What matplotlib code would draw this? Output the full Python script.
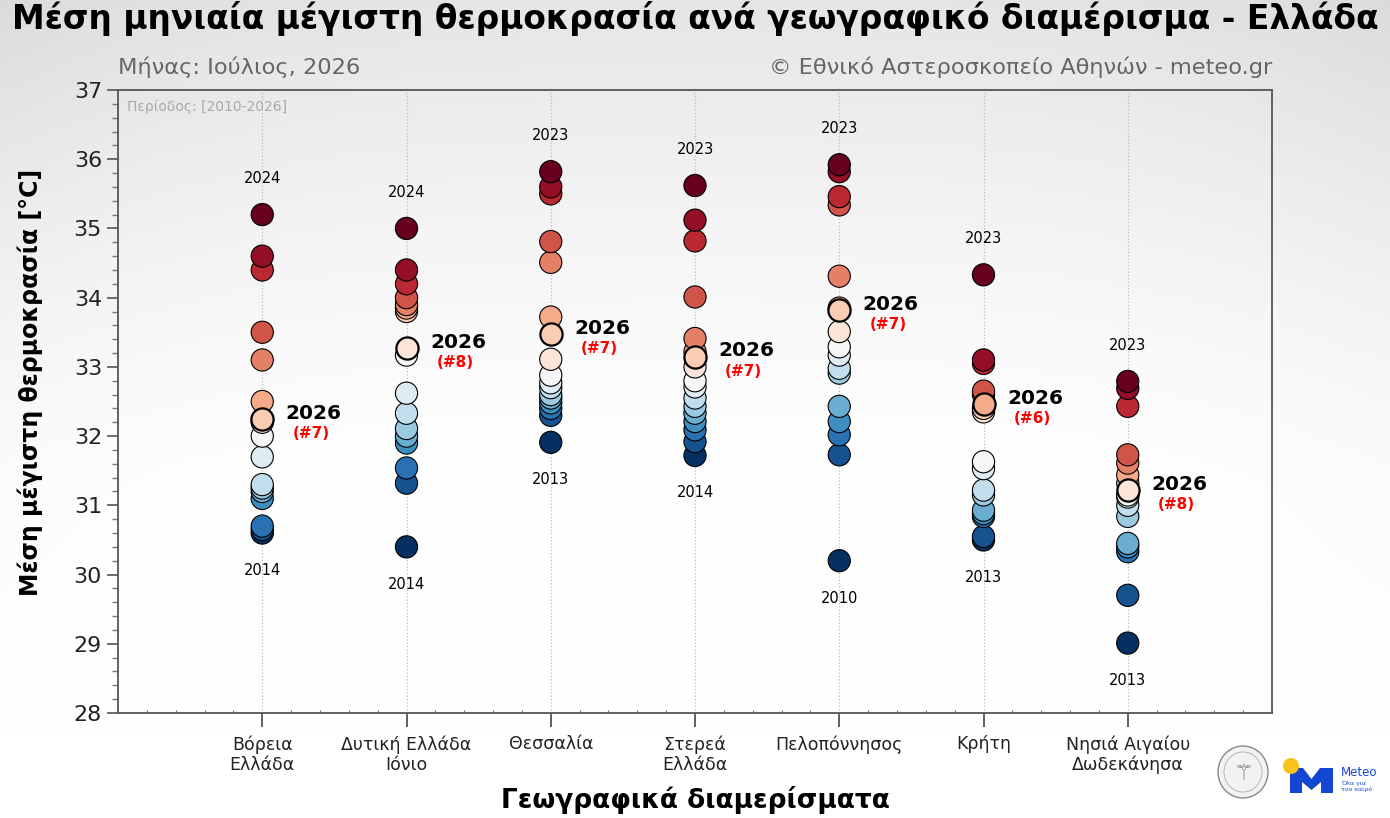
import numpy as np
import matplotlib
matplotlib.use("Agg")
import matplotlib.pyplot as plt
from matplotlib.patches import Ellipse, Polygon
from matplotlib.ticker import MultipleLocator

plt.rcParams['font.family'] = ['DejaVu Sans']

regions = ["Βόρεια\nΕλλάδα", "Δυτική Ελλάδα\nΙόνιο", "Θεσσαλία", "Στερεά\nΕλλάδα",
           "Πελοπόννησος", "Κρήτη", "Νησιά Αιγαίου\nΔωδεκάνησα"]

vals_north = [35.2, 34.6, 34.4, 33.5, 33.1, 32.5, 32.25, 32.2, 32.0, 31.7, 31.3, 31.25, 31.2, 31.1, 30.7, 30.65, 30.6]
vals_west = [35.0, 34.4, 34.2, 34.0, 33.9, 33.85, 33.8, 33.27, 33.17, 32.62, 32.33, 32.11, 32.0, 31.9, 31.54, 31.32, 30.4]
vals_thess = [35.82, 35.6, 35.5, 34.81, 34.51, 33.72, 33.48, 33.11, 32.88, 32.77, 32.7, 32.6, 32.55, 32.48, 32.4, 32.3, 31.91]
vals_sterea = [35.62, 35.12, 34.82, 34.01, 33.41, 33.22, 33.15, 33.0, 32.8, 32.71, 32.55, 32.43, 32.33, 32.21, 32.09, 31.92, 31.72]
vals_pelop = [35.92, 35.82, 35.46, 35.34, 34.31, 33.85, 33.82, 33.51, 33.29, 33.17, 32.98, 32.91, 32.43, 32.21, 32.02, 31.73, 30.2]
vals_crete = [34.33, 33.1, 33.05, 32.65, 32.6, 32.47, 32.4, 32.35, 31.63, 31.53, 31.22, 31.15, 30.93, 30.88, 30.84, 30.55, 30.5]
vals_aegean = [32.79, 32.69, 32.43, 31.73, 31.61, 31.44, 31.32, 31.22, 31.15, 31.12, 31.0, 30.84, 30.45, 30.4, 30.33, 29.7, 29.01]

vals_2026 = [32.25, 33.27, 33.48, 33.15, 33.82, 32.47, 31.22]
max_years = ["2024", "2024", "2023", "2023", "2023", "2023", "2023"]
min_years = ["2014", "2014", "2013", "2014", "2010", "2013", "2013"]

all_vals = [vals_north, vals_west, vals_thess, vals_sterea, vals_pelop, vals_crete, vals_aegean]

W, H = 1390, 818
fig = plt.figure(figsize=(W / 100, H / 100), dpi=100)

# background gradient (grey at the top, white towards the middle/bottom)
bg = fig.add_axes([0, 0, 1, 1], zorder=-10)
yy, xx = np.mgrid[0:1:200j, 0:1:340j]   # yy = 0 at top
top = np.clip(1 - yy / 0.6, 0, 1) ** 1.4
side = np.clip(np.abs(xx - 0.5) / 0.5, 0, 1) ** 3 * np.clip(1 - yy / 0.9, 0, 1)
g = 1 - 0.10 * top - 0.04 * side
bg.imshow(np.dstack([g, g, g]), extent=[0, 1, 0, 1], aspect='auto', origin='upper')
bg.axis('off')

ax = fig.add_axes([118 / W, 1 - 713 / H, (1272 - 118) / W, (713 - 90) / H])
ax.patch.set_alpha(0)
ax.set_xlim(-1, 7)
ax.set_ylim(28, 37)

cmap = plt.get_cmap('RdBu_r')
for i, vals in enumerate(all_vals):
    v = np.array(vals)
    n = len(v)
    order = np.argsort(v)
    ranks = np.empty(n)
    ranks[order] = np.arange(n)
    colors = cmap(ranks / (n - 1))
    idx26 = int(np.argmin(np.abs(v - vals_2026[i])))
    others = [k for k in order if k != idx26]
    ax.scatter([i] * len(others), v[others], s=255, c=colors[others],
               edgecolors='black', linewidths=0.8, zorder=3)
    ax.scatter([i], [v[idx26]], s=255, c=[colors[idx26]],
               edgecolors='black', linewidths=1.6, zorder=4)
    rank26 = int((v > v[idx26]).sum()) + 1
    ax.annotate("2026", (i, v[idx26]), xytext=(37, 4), textcoords='offset points',
                ha='center', va='center', fontsize=14.5, fontweight='bold', color='black')
    ax.annotate(f"(#{rank26})", (i, v[idx26]), xytext=(35, -10.5), textcoords='offset points',
                ha='center', va='center', fontsize=11, fontweight='bold', color='red')
    ax.annotate(max_years[i], (i, v.max()), xytext=(0, 26), textcoords='offset points',
                ha='center', va='center', fontsize=10.5, color='black')
    ax.annotate(min_years[i], (i, v.min()), xytext=(0, -27), textcoords='offset points',
                ha='center', va='center', fontsize=10.5, color='black')

ax.set_xticks(range(len(regions)))
ax.set_xticklabels(regions, fontsize=12.5, color='#222222', linespacing=1.15)
ax.xaxis.set_minor_locator(MultipleLocator(0.2))
ax.yaxis.set_major_locator(MultipleLocator(1))
ax.yaxis.set_minor_locator(MultipleLocator(0.2))
ax.tick_params(axis='y', which='major', labelsize=16, length=8, width=1.2, color='#555555', labelcolor='#222222')
ax.tick_params(axis='y', which='minor', length=4, width=1.0, color='#777777')
ax.tick_params(axis='x', which='major', length=10, width=1.2, color='#444444', pad=6)
ax.tick_params(axis='x', which='minor', direction='in', length=2, width=0.8, color='#777777')
ax.grid(axis='x', which='major', linestyle=':', color='#bbbbbb', linewidth=0.9, zorder=0)
for s in ax.spines.values():
    s.set_color('#555555')
    s.set_linewidth(1.3)

ax.set_ylabel("Μέση μέγιστη θερμοκρασία [°C]", fontsize=17, fontweight='bold', va='center')
ax.yaxis.set_label_coords((30 - 118) / 1154, (713 - 382) / 623)
ax.set_xlabel("Γεωγραφικά διαμερίσματα", fontsize=19, fontweight='bold', va='center')
ax.xaxis.set_label_coords(0.5, (713 - 800) / 623)

ax.text(0.008, 0.984, "Περίοδος: [2010-2026]", transform=ax.transAxes, ha='left', va='top',
        fontsize=10, color='#aaaaaa', family=['DejaVu Sans Condensed', 'DejaVu Sans'])

fig.text(0.5, 1 - 19 / H, "Μέση μηνιαία μέγιστη θερμοκρασία ανά γεωγραφικό διαμέρισμα - Ελλάδα",
         ha='center', va='center', fontsize=23.7, fontweight='bold', color='black')
fig.text(118 / W, 1 - 67 / H, "Μήνας: Ιούλιος, 2026", ha='left', va='center', fontsize=16.2, color='#666666')
fig.text(1272 / W, 1 - 67 / H, "© Εθνικό Αστεροσκοπείο Αθηνών - meteo.gr", ha='right', va='center',
         fontsize=16.2, color='#666666')

# logos (approximate)
def P(x, y):
    return (x / W, 1 - y / H)

fig.patches.append(Ellipse(P(1243, 772), 50 / W, 52 / H, transform=fig.transFigure,
                           facecolor='#f2f2f2', edgecolor='#888888', linewidth=1.0))
fig.patches.append(Ellipse(P(1243, 772), 38 / W, 40 / H, transform=fig.transFigure,
                           facecolor='none', edgecolor='#aaaaaa', linewidth=0.6))
fig.text(1243 / W, 1 - 774 / H, "⚚", ha='center', va='center', fontsize=16, color='#777777')

m_pts = [(1290, 793), (1290, 768), (1303, 768), (1311.5, 779), (1320, 768), (1333, 768),
         (1333, 793), (1321, 793), (1321, 782), (1311.5, 790), (1302, 782), (1302, 793)]
fig.patches.append(Polygon([P(x, y) for x, y in m_pts], closed=True, transform=fig.transFigure,
                           facecolor='#1446d2', edgecolor='none'))
fig.patches.append(Ellipse(P(1291, 766), 16 / W, 16 / H, transform=fig.transFigure,
                           facecolor='#f7c21b', edgecolor='none'))
fig.text(1341 / W, 1 - 772 / H, "Meteo", ha='left', va='center', fontsize=8.5, color='#1446d2')
fig.text(1341 / W, 1 - 786 / H, "Όλα για\nτον καιρό", ha='left', va='center', fontsize=4.5,
         color='#1446d2', linespacing=1.1)

fig.savefig("out.png", dpi=100)
